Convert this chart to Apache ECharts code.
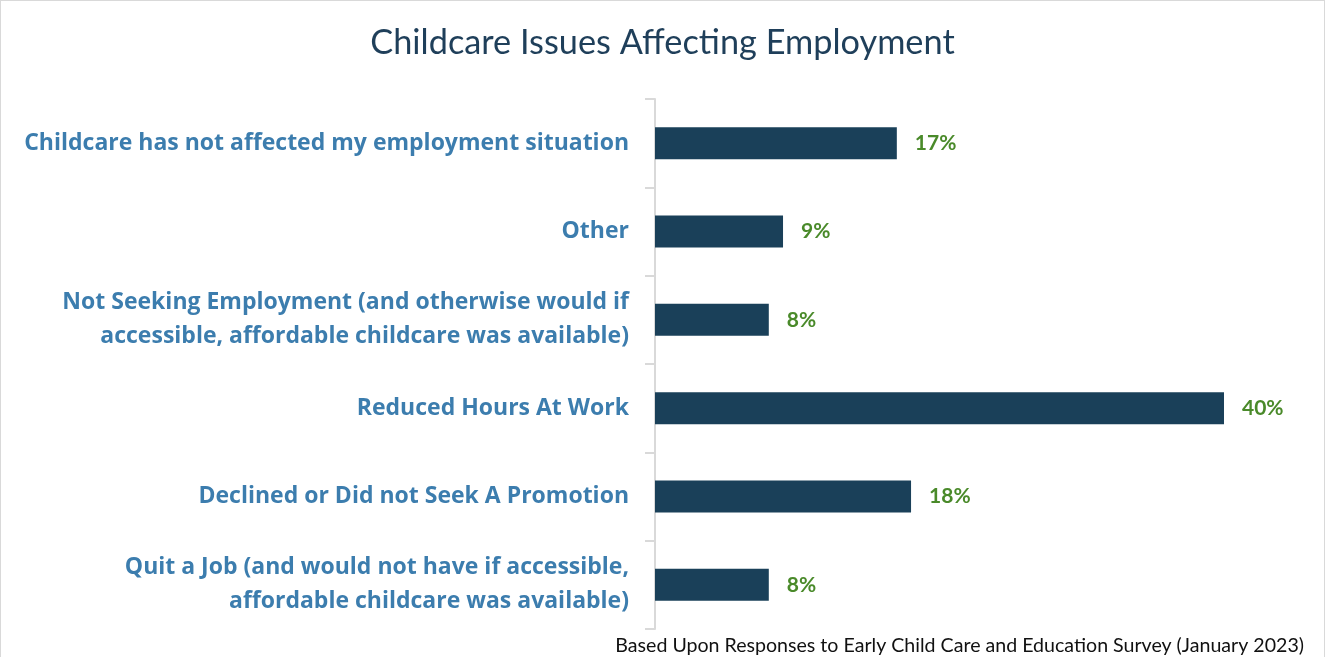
<!DOCTYPE html>
<html>
<head>
<meta charset="utf-8">
<script src="https://cdn.jsdelivr.net/npm/echarts@6/dist/echarts.min.js"></script>
<style>
html,body{margin:0;padding:0;background:#fff;}
#chart{width:1323px;height:656px;border:1px solid #d9d9d9;border-bottom:none;}
</style>
</head>
<body>
<div id="chart"></div>
<script>
const title = "Childcare Issues Affecting Employment";
const footnote = "Based Upon Responses to Early Child Care and Education Survey (January 2023)";
const categories = [
  "Childcare has not affected my employment situation",
  "Other",
  "Not Seeking Employment (and otherwise would if\naccessible, affordable childcare was available)",
  "Reduced Hours At Work",
  "Declined or Did not Seek A Promotion",
  "Quit a Job (and would not have if accessible,\naffordable childcare was available)"
];
const values = [17, 9, 8, 40, 18, 8];

const chart = echarts.init(document.getElementById('chart'));
chart.setOption({
  animation: false,
  title: [{
    text: title, left: 'center', top: 20,
    textStyle: {fontFamily: 'Lato', fontWeight: 'normal', fontSize: 34.3, color: '#1f3f5a'}
  }, {
    text: footnote, right: 15, top: 630,
    textStyle: {fontFamily: 'Lato', fontWeight: 'normal', fontSize: 19.6, color: '#111'}
  }],
  grid: {left: 654, right: 100, top: 98, height: 530},
  xAxis: {type: 'value', min: 0, max: 40, show: false},
  yAxis: {
    type: 'category', data: categories, inverse: true,
    axisLine: {show: true, lineStyle: {color: '#d9d9d9', width: 2}},
    axisTick: {show: true, length: 10, lineStyle: {color: '#d9d9d9', width: 2}},
    axisLabel: {
      margin: 26, fontFamily: 'Open Sans', fontWeight: 'bold', fontSize: 23,
      color: '#3c7dae', lineHeight: 34, align: 'right'
    }
  },
  series: [{
    type: 'bar', data: values, barWidth: 32,
    itemStyle: {color: '#1a4059'},
    label: {
      show: true, position: 'right', distance: 18,
      formatter: '{c}%', fontFamily: 'Lato', fontWeight: 'bold', fontSize: 21, color: '#4a8a2a'
    }
  }]
});
</script>
</body>
</html>
